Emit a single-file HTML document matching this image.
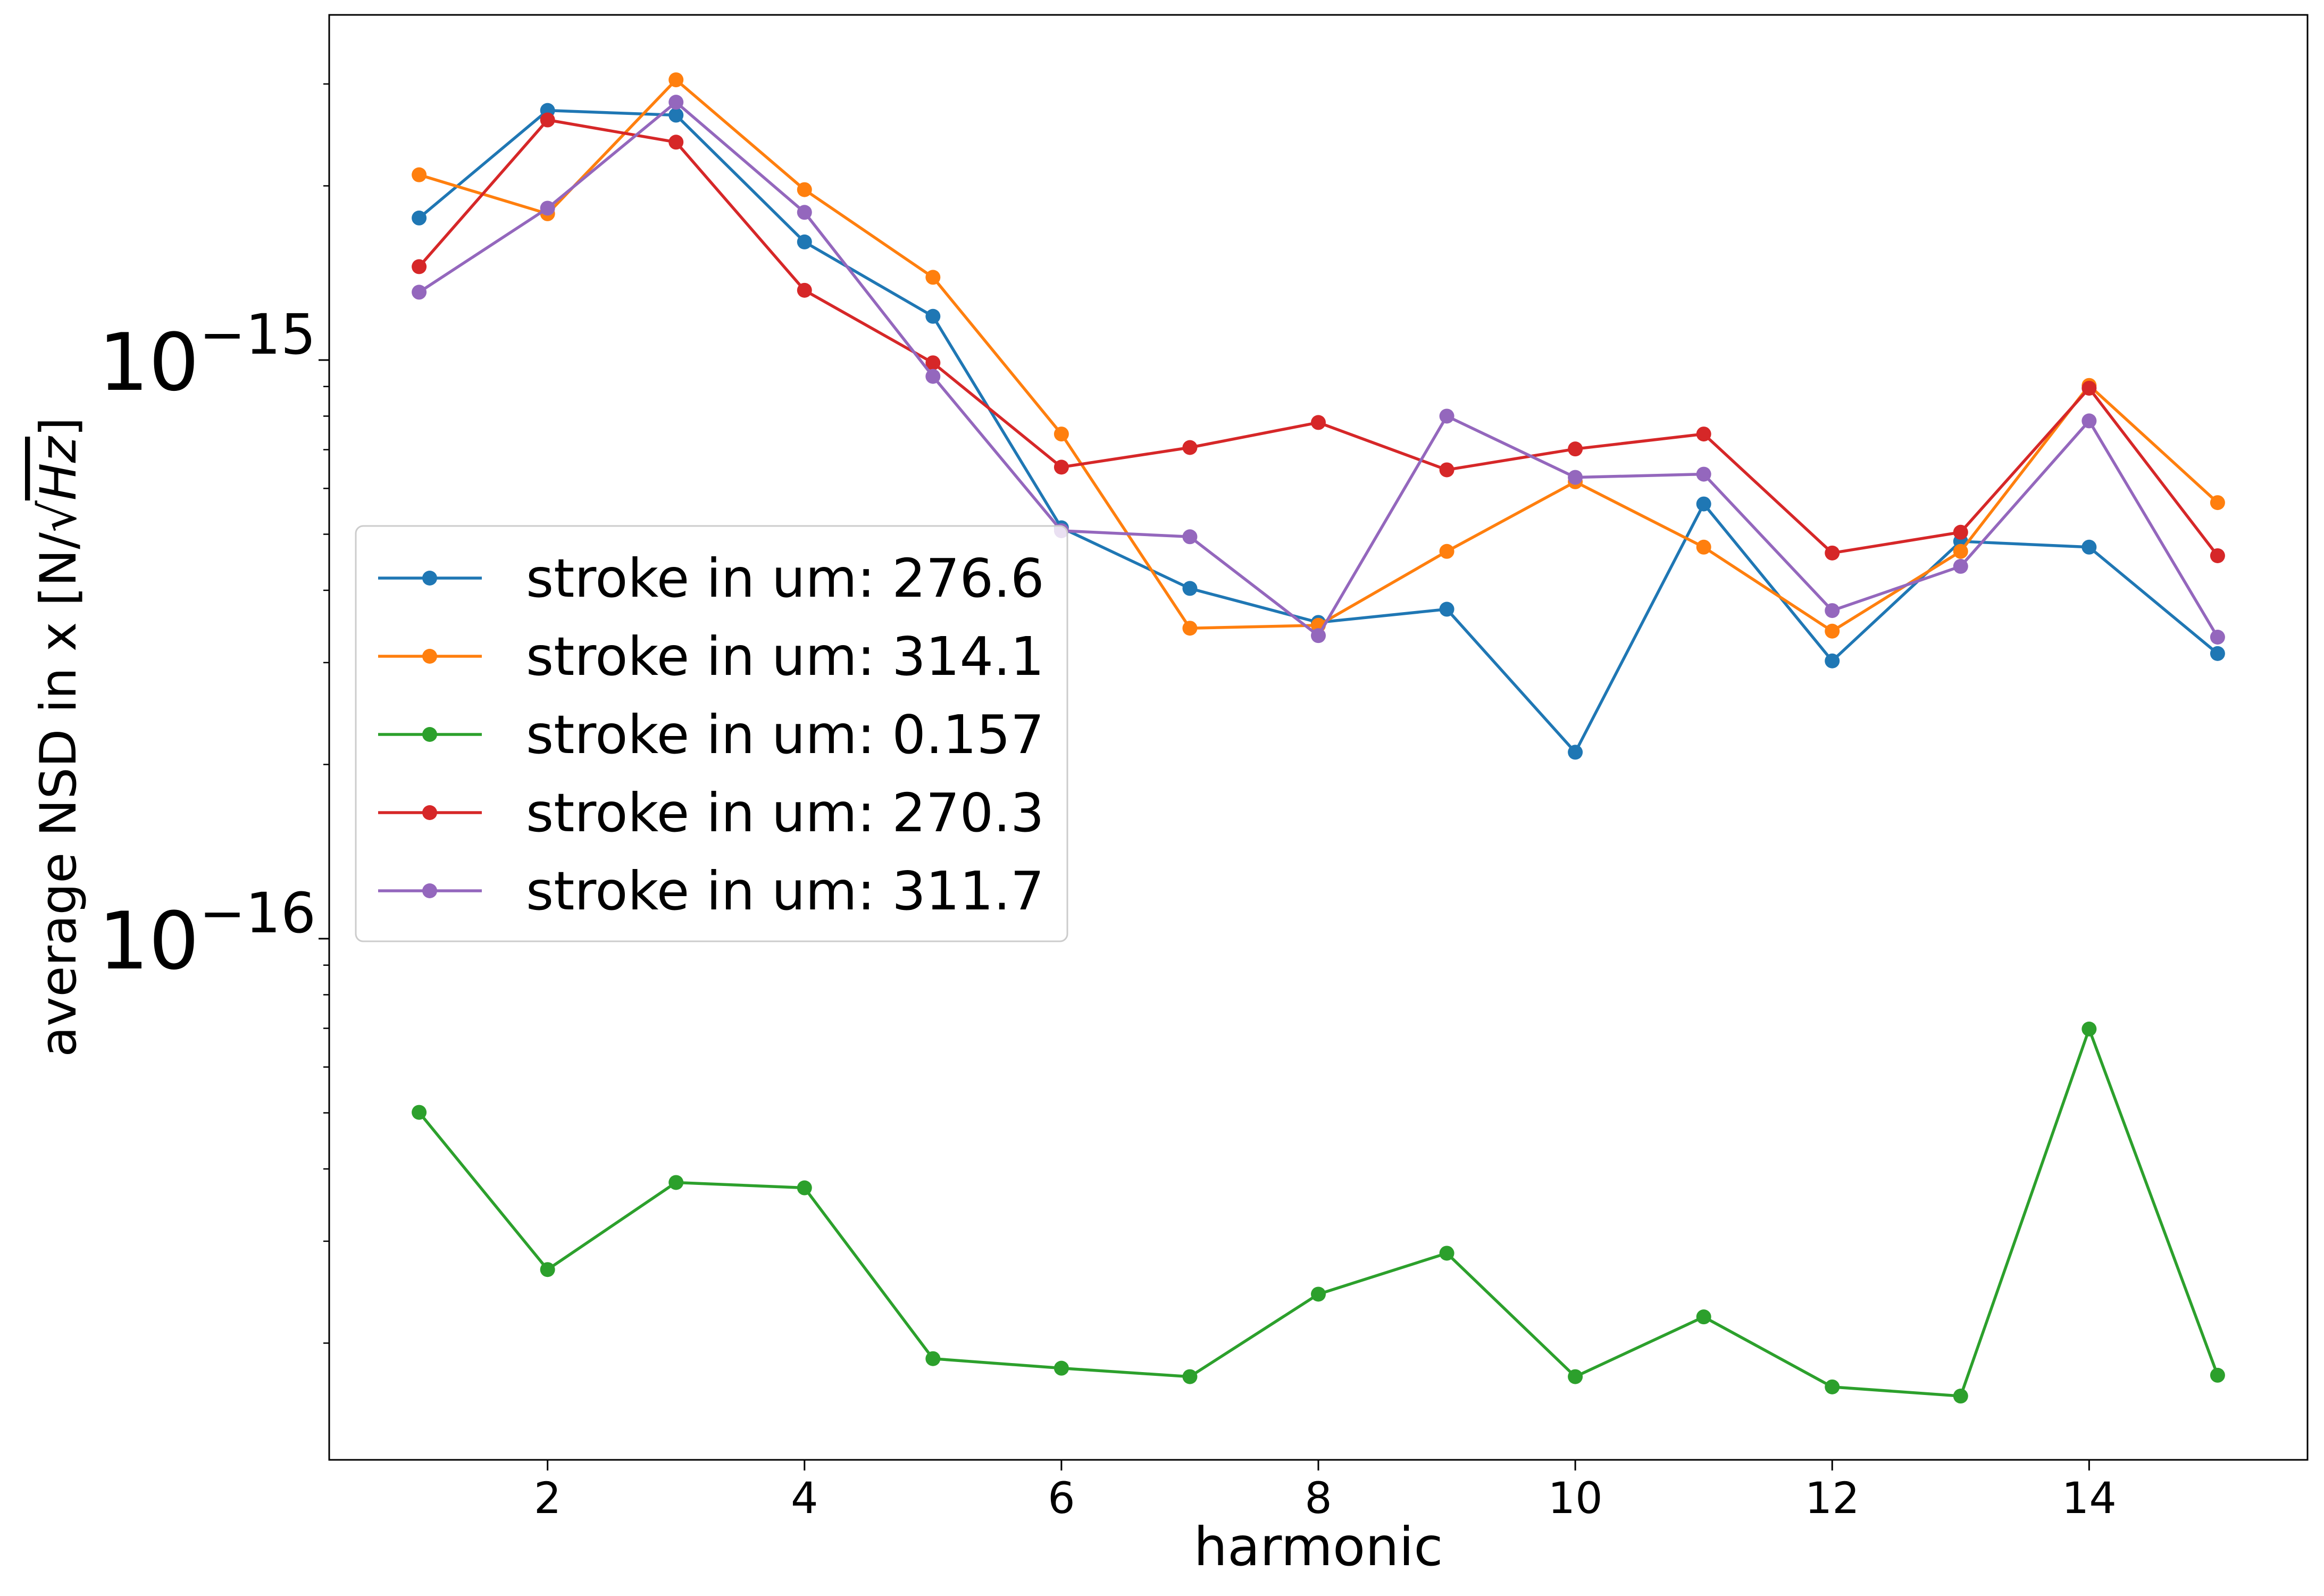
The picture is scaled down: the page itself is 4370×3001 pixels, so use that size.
<!DOCTYPE html>
<html><head><meta charset="utf-8"><style>
html,body{margin:0;padding:0;background:#fff;}
svg{display:block;font-family:"DejaVu Sans","Liberation Sans",sans-serif;}
</style></head><body>
<svg id="chart" width="4370" height="3001" viewBox="0 0 4370 3001" xmlns="http://www.w3.org/2000/svg">
<rect x="0" y="0" width="4370" height="3001" fill="#fff"/>
<g id="plot"></g>
<text x="2479" y="2943" font-size="100" text-anchor="middle">harmonic</text>
<text transform="translate(142,1386) rotate(-90)" font-size="94" text-anchor="middle">average NSD in x [N/√<tspan font-style="italic" text-decoration="overline">Hz</tspan>]</text>
</svg>
<script>
const harmonics = [1,2,3,4,5,6,7,8,9,10,11,12,13,14,15];
const seriesNames = ["stroke in um: 276.6","stroke in um: 314.1","stroke in um: 0.157","stroke in um: 270.3","stroke in um: 311.7"];
const series276 = [1.76e-15,2.70e-15,2.65e-15,1.60e-15,1.19e-15,5.13e-16,4.03e-16,3.52e-16,3.71e-16,2.10e-16,5.64e-16,3.02e-16,4.86e-16,4.75e-16,3.11e-16];
const series314 = [2.09e-15,1.79e-15,3.05e-15,1.97e-15,1.39e-15,7.45e-16,3.44e-16,3.48e-16,4.67e-16,6.16e-16,4.75e-16,3.40e-16,4.67e-16,9.04e-16,5.67e-16];
const series0157 = [5.01e-17,2.68e-17,3.79e-17,3.71e-17,1.88e-17,1.81e-17,1.75e-17,2.43e-17,2.86e-17,1.75e-17,2.22e-17,1.68e-17,1.62e-17,6.98e-17,1.76e-17];
const series270 = [1.45e-15,2.60e-15,2.38e-15,1.32e-15,9.89e-16,6.53e-16,7.06e-16,7.80e-16,6.46e-16,7.02e-16,7.45e-16,4.64e-16,5.04e-16,8.94e-16,4.59e-16];
const series311 = [1.31e-15,1.83e-15,2.79e-15,1.80e-15,9.37e-16,5.07e-16,4.95e-16,3.34e-16,8.00e-16,6.27e-16,6.35e-16,3.69e-16,4.40e-16,7.85e-16,3.32e-16];
const xTicks = [2,4,6,8,10,12,14];
const yMajorExps = [-15,-16];

const NS="http://www.w3.org/2000/svg";
const L=619,R=4339,T=28,B=2745;
const xs=v=>L+(v-0.3)*(R-L)/15.4;
const ys=v=>677-1088*(Math.log10(v)+15);
const g=document.getElementById('plot');
function mk(tag,attrs,parent){const e=document.createElementNS(NS,tag);for(const k in attrs)e.setAttribute(k,attrs[k]);(parent||g).appendChild(e);return e;}
const colors=["#1f77b4","#ff7f0e","#2ca02c","#d62728","#9467bd"];
const all=[series276,series314,series0157,series270,series311];

const frame=mk('rect',{x:L,y:T,width:R-L,height:B-T,fill:'none',stroke:'#000','stroke-width':3});



xTicks.forEach(t=>{
  const tk=mk('line',{x1:xs(t),x2:xs(t),y1:B,y2:B+20,stroke:'#000','stroke-width':3});
  
  
  const tx=mk('text',{x:xs(t),y:B+100,'font-size':81,'text-anchor':'middle'});
  tx.textContent=t;
  
  
});
for(let e=-17;e<=-15;e++){for(let m=2;m<=9;m++){const v=m*Math.pow(10,e);const y=ys(v);if(y<T||y>B)continue;
  const tk=mk('line',{x1:L-11,x2:L,y1:y,y2:y,stroke:'#000','stroke-width':2.5});
  
  }}
yMajorExps.forEach(e=>{const y=ys(Math.pow(10,e));
  const tk=mk('line',{x1:L-20,x2:L,y1:y,y2:y,stroke:'#000','stroke-width':3});
  
  
  const tx=mk('text',{x:594,y:y+56,'font-size':149,'text-anchor':'end'});
  
  
  const a=document.createElementNS(NS,'tspan');a.textContent='10';tx.appendChild(a);
  const b=document.createElementNS(NS,'tspan');b.setAttribute('font-size','104');b.setAttribute('dy','-68');b.textContent='\u2212'+(-e);tx.appendChild(b);
});
all.forEach((s,i)=>{
  const pts=s.map((v,j)=>xs(harmonics[j])+','+ys(v)).join(' ');
  const pl=mk('polyline',{points:pts,fill:'none',stroke:colors[i],'stroke-width':5.5,'stroke-linejoin':'round'});
  
  
  s.forEach((v,j)=>{const c=mk('circle',{cx:xs(harmonics[j]),cy:ys(v),r:14,fill:colors[i]});
    
    });
});
const lg=mk('g',{});


mk('rect',{x:669,y:989,width:1338,height:781,rx:14,fill:'#fff','fill-opacity':0.8,stroke:'#ccc','stroke-width':3},lg);
seriesNames.forEach((n,i)=>{const y=1087+i*147;
  const e=mk('g',{},lg);
  
  
  mk('line',{x1:711,x2:906,y1:y,y2:y,stroke:colors[i],'stroke-width':5.5},e);
  mk('circle',{cx:808,cy:y,r:14,fill:colors[i]},e);
  const t=mk('text',{x:989,y:y+35,'font-size':100},e);t.textContent=n;
});
</script>
</body></html>
